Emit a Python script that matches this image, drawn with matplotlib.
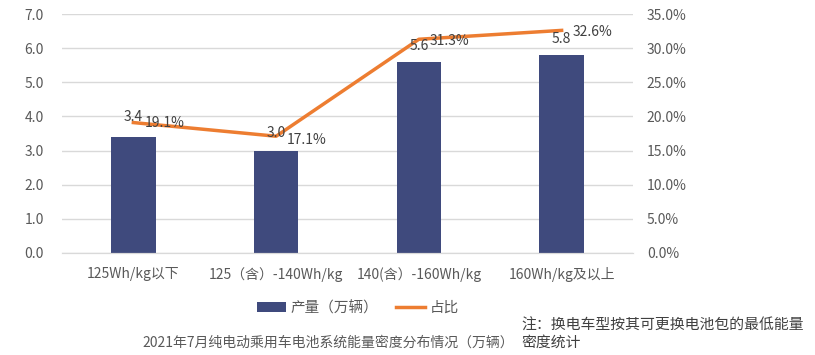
import matplotlib.pyplot as plt
import numpy as np

plt.rcParams['font.family'] = ['Noto Sans CJK SC', 'DejaVu Sans']

categories = ['125Wh/kg以下', '125（含）-140Wh/kg', '140(含）-160Wh/kg', '160Wh/kg及以上']
output = [3.4, 3.0, 5.6, 5.8]          # 产量（万辆）
share = [0.191, 0.171, 0.313, 0.326]   # 占比

bar_color = '#3f4a7d'
line_color = '#ed7d31'
text_color = '#595959'

fig = plt.figure(figsize=(8.15, 3.55), dpi=100)
ax = fig.add_axes([62 / 815, 102 / 355, 571 / 815, 239 / 355])
ax2 = ax.twinx()

x = np.arange(len(categories))
ax.bar(x, output, width=0.31, color=bar_color, label='产量（万辆）', zorder=2)
ax2.plot(x, share, color=line_color, lw=2.5, label='占比', zorder=3)

ax.set_xlim(-0.5, 3.5)
ax.set_ylim(0, 7)
ax.set_yticks(np.arange(0, 7.1, 1))
ax.set_yticklabels([f'{v:.1f}' for v in np.arange(0, 7.1, 1)])
ax2.set_ylim(0, 0.35)
ax2.set_yticks(np.arange(0, 0.351, 0.05))
ax2.set_yticklabels([f'{v * 100:.1f}%' for v in np.arange(0, 0.351, 0.05)])

ax.set_xticks(x)
ax.set_xticklabels(categories)
ax.grid(axis='y', color='#d9d9d9', lw=1, zorder=0)
ax.set_axisbelow(True)

for a in (ax, ax2):
    for s in ('top', 'left', 'right'):
        a.spines[s].set_visible(False)
    a.spines['bottom'].set_color('#d9d9d9')
    a.tick_params(length=0, labelsize=10, colors=text_color)
ax.tick_params(axis='y', pad=13)
ax2.tick_params(axis='y', pad=10)
ax.tick_params(axis='x', pad=10)

# data labels
bar_dy = [4, 2, -5, -6]
pct_dy = [0, -3, -1, -1]
for i in range(len(categories)):
    ax2.annotate(f'{output[i]:.1f}', (x[i], share[i]), xytext=(0, bar_dy[i]),
                 textcoords='offset points', ha='center', va='center',
                 fontsize=10, color='#404040')
    ax2.annotate(f'{share[i] * 100:.1f}%', (x[i], share[i]), xytext=(8, pct_dy[i]),
                 textcoords='offset points', ha='left', va='center',
                 fontsize=10, color='#404040')

h1, l1 = ax.get_legend_handles_labels()
h2, l2 = ax2.get_legend_handles_labels()
fig.legend(h1 + h2, l1 + l2, loc='center', bbox_to_anchor=(358 / 815, 1 - 308 / 355),
           ncol=2, frameon=False, fontsize=10.5, labelcolor=text_color,
           handlelength=2.0, columnspacing=1.2, handletextpad=0.3)

fig.text(328 / 815, 1 - 343 / 355, '2021年7月纯电动乘用车电池系统能量密度分布情况（万辆）',
         ha='center', va='center', fontsize=10, color=text_color)
fig.text(521 / 815, 1 - 334 / 355, '注：换电车型按其可更换电池包的最低能量\n密度统计',
         ha='left', va='center', fontsize=10.7, color='#404040', linespacing=1.25)

fig.savefig('out.png', dpi=100)
